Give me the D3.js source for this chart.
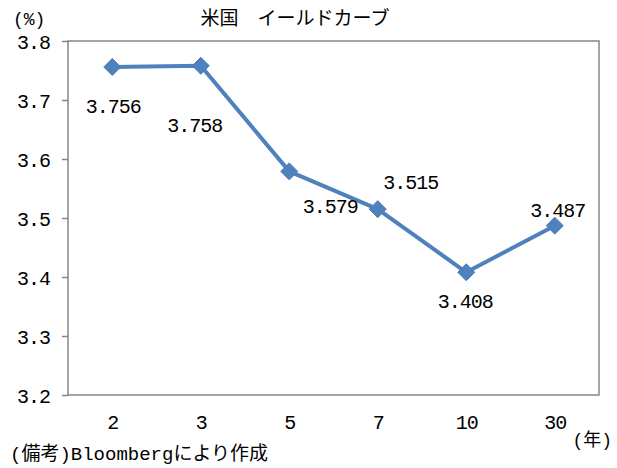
<!DOCTYPE html>
<html>
<head>
<meta charset="utf-8">
<script src="https://cdn.jsdelivr.net/npm/d3@7"></script>
<style>
  body { margin: 0; background: #fff; }
  text { font-family: "Liberation Mono", "Noto Sans CJK JP", monospace; fill: #000; }
</style>
</head>
<body>
<svg id="chart" width="617" height="468"></svg>
<script>
// data
const maturities = ["2", "3", "5", "7", "10", "30"];
const yields = [3.756, 3.758, 3.579, 3.515, 3.408, 3.487];
const yTicks = [3.2, 3.3, 3.4, 3.5, 3.6, 3.7, 3.8];
// where Excel put each data label, relative to its point (dx, dy of baseline)
const labelOffsets = [[1, 46], [-6, 66], [41, 42], [33, -20], [-1, 36], [3, -9]];

const margin = { top: 41, right: 18, bottom: 73, left: 68 };
const W = 617, H = 468;
const width = W - margin.left - margin.right;
const height = H - margin.top - margin.bottom;

const svg = d3.select("#chart");
const g = svg.append("g").attr("transform", `translate(${margin.left},${margin.top})`);

const x = d3.scalePoint().domain(maturities).range([0, width]).padding(0.5);
const y = d3.scaleLinear().domain([3.2, 3.8]).range([height, 0]);

// plot frame
g.append("rect")
    .attr("x", 0).attr("y", 0)
    .attr("width", width).attr("height", height)
    .attr("fill", "none")
    .attr("stroke", "#868686")
    .attr("stroke-width", 1.5);

// y axis
const yAxis = g.append("g")
    .call(d3.axisLeft(y).tickValues(yTicks).tickSize(6).tickPadding(12)
        .tickFormat(d3.format(".1f")));
yAxis.select(".domain").remove();
yAxis.selectAll("line").attr("stroke", "#868686").attr("stroke-width", 1.5);
yAxis.selectAll("text")
    .style("font-size", "20px")
    .style("letter-spacing", "-1px")
    .style("font-family", "\"Liberation Mono\", monospace")
    .attr("dy", "0.35em");

// x axis labels
const xAxis = g.append("g")
    .attr("transform", `translate(0,${height})`)
    .call(d3.axisBottom(x).tickSize(0).tickPadding(20));
xAxis.select(".domain").remove();
xAxis.selectAll("text")
    .style("font-size", "20px")
    .style("letter-spacing", "-1px")
    .style("font-family", "\"Liberation Mono\", monospace");

const pts = maturities.map((m, i) => ({ m, v: yields[i], off: labelOffsets[i] }));

// line
g.append("path")
    .datum(pts)
    .attr("fill", "none")
    .attr("stroke", "#4F81BD")
    .attr("stroke-width", 4)
    .attr("stroke-linejoin", "round")
    .attr("d", d3.line().x(d => x(d.m)).y(d => y(d.v)));

// diamond markers
g.selectAll(".mk")
    .data(pts)
    .join("path")
    .attr("class", "mk")
    .attr("transform", d => `translate(${x(d.m)},${y(d.v)})`)
    .attr("d", "M0,-8.5L8.5,0L0,8.5L-8.5,0Z")
    .attr("fill", "#4F81BD")
    .attr("stroke", "#4A7EBB")
    .attr("stroke-width", 1);

// data labels
g.selectAll(".lbl")
    .data(pts)
    .join("text")
    .attr("class", "lbl")
    .attr("x", d => x(d.m) + d.off[0])
    .attr("y", d => y(d.v) + d.off[1])
    .attr("text-anchor", "middle")
    .style("font-size", "20px")
    .style("letter-spacing", "-1px")
    .text(d => d.v.toFixed(3));

// titles and notes
svg.append("text")
    .attr("x", 295).attr("y", 25)
    .attr("text-anchor", "middle")
    .style("font-family", "\"Noto Sans CJK JP\", sans-serif")
    .style("font-size", "19px")
    .text("米国　イールドカーブ");

svg.append("text")
    .attr("x", 13).attr("y", 25)
    .style("font-size", "18px")
    .text("(%)");

svg.append("text")
    .attr("x", 612).attr("y", 446)
    .attr("text-anchor", "end")
    .style("font-size", "18px")
    .text("(年)");

svg.append("text")
    .attr("x", 10).attr("y", 460)
    .style("font-size", "19px")
    .text("(備考)Bloombergにより作成");
</script>
</body>
</html>
